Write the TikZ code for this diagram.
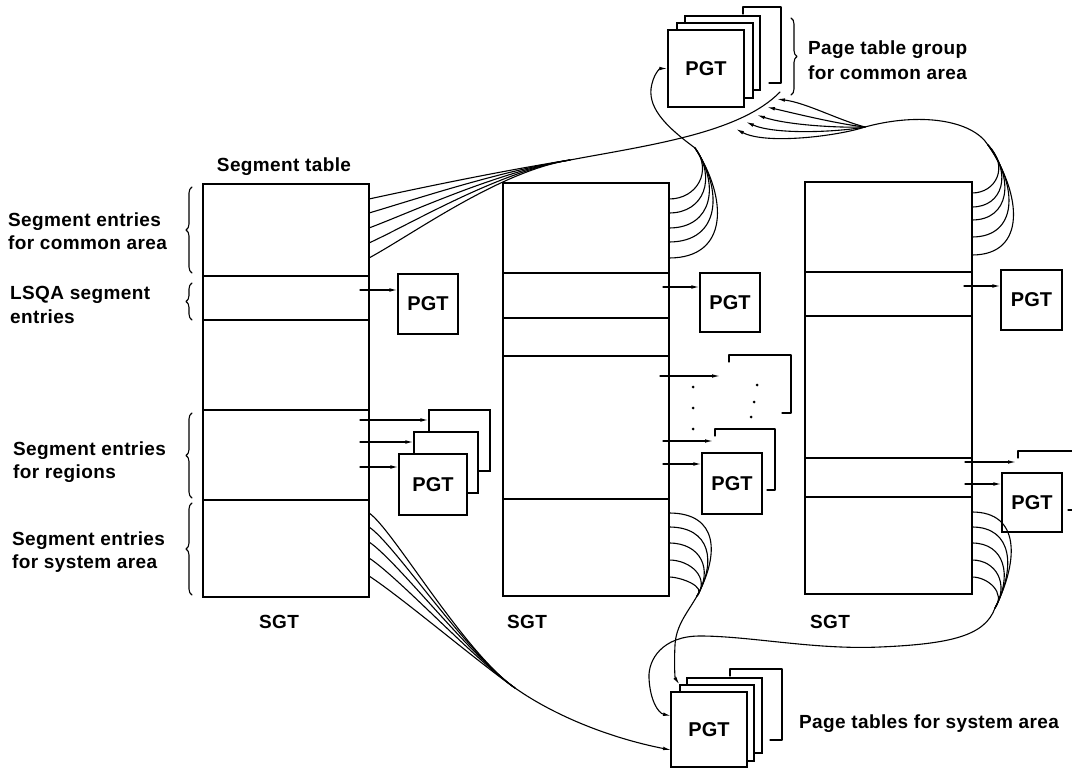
\documentclass[tikz,border=0pt]{standalone}
\usepackage{fontspec}
\setmainfont{Liberation Sans}
\newfontfamily\lblfont{Liberation Sans}[LetterSpace=2]
\usetikzlibrary{arrows.meta,decorations.pathreplacing}
\begin{document}
\tikzset{
  ln/.style={line width=1.1pt, line cap=round, line join=round},
  box/.style={draw, fill=white, line width=1.2pt, inner sep=0pt},
  pgt/.style={box, font=\bfseries\fontsize{20}{20}\selectfont},
  tbl/.style={draw, line width=1.3pt, inner sep=0pt},
  lbl/.style={font=\lblfont\bfseries\fontsize{19}{22}\selectfont, inner sep=0pt},
  arr/.style={ln, -{Latex[length=8pt,width=3.6pt]}},
  brc/.style={ln, decorate, decoration={brace, amplitude=6pt}},
  dot/.style={fill=black},
}
\begin{tikzpicture}[x=1pt,y=-1pt]
\useasboundingbox (0,0) rectangle (1072,770);

% ---------- segment tables ----------
\node[tbl, minimum width=166pt, minimum height=413pt] (segL) at (286,390.5) {};
\node[tbl, minimum width=166pt, minimum height=413pt] (segM) at (586,389.5) {};
\node[tbl, minimum width=167pt, minimum height=412pt] (segR) at (888.5,388) {};
\begin{scope}[line width=1.3pt]
  \draw (203,276) -- (369,276);  \draw (203,320) -- (369,320);
  \draw (203,410) -- (369,410);  \draw (203,500) -- (369,500);
  \draw (503,273) -- (669,273);  \draw (503,318) -- (669,318);
  \draw (503,356) -- (669,356);  \draw (503,499) -- (669,499);
  \draw (805,272) -- (972,272);  \draw (805,316) -- (972,316);
  \draw (805,458) -- (972,458);  \draw (805,497) -- (972,497);
\end{scope}

% ---------- table captions ----------
\node[lbl, anchor=base] (segtitle) at (284,172) {Segment table};
\node[lbl, anchor=base] (sgtL) at (279,628) {SGT};
\node[lbl, anchor=base] (sgtM) at (527,628) {SGT};
\node[lbl, anchor=base] (sgtR) at (830,628) {SGT};

% ---------- left-hand labels and braces ----------
\node[lbl, anchor=base west] (lc1) at (8,227) {Segment entries};
\node[lbl, anchor=base west] (lc2) at (8,249.5) {for common area};
\node[lbl, anchor=base west] (ll1) at (10,300) {LSQA segment};
\node[lbl, anchor=base west] (ll2) at (10,324) {entries};
\node[lbl, anchor=base west] (lr1) at (13,455) {Segment entries};
\node[lbl, anchor=base west] (lr2) at (13,478) {for regions};
\node[lbl, anchor=base west] (ls1) at (12,545) {Segment entries};
\node[lbl, anchor=base west] (ls2) at (12,568) {for system area};
\draw[brc] (192,273) -- (192,187);
\draw[brc] (192,320) -- (192,283);
\draw[brc] (192,498) -- (192,413);
\draw[brc] (192,595) -- (192,503);

% ---------- page tables for LSQA ----------
\node[pgt, minimum width=60pt, minimum height=60pt] (pL) at (428,304) {PGT};
\node[pgt, minimum width=60pt, minimum height=59pt] (pM) at (730,302.5) {PGT};
\node[pgt, minimum width=61pt, minimum height=60pt] (pR) at (1031.5,300) {PGT};
\coordinate (aLl) at (360,290);
\coordinate (aMl) at (663,287);
\coordinate (aRl) at (964,286);
\draw[arr] (aLl) -- (aLl -| pL.west);
\draw[arr] (aMl) -- (aMl -| pM.west);
\draw[arr] (aRl) -- (aRl -| pR.west);

% ---------- page tables for regions: left ----------
\node[box, minimum width=61pt, minimum height=61pt] (rL3) at (459.5,440.5) {};
\node[box, minimum width=64pt, minimum height=61pt] (rL2) at (446,462.5) {};
\node[pgt, minimum width=68pt, minimum height=61pt] (rL1) at (433,484.5) {PGT};
\coordinate (aLr1) at (360,420);
\coordinate (aLr2) at (360,442);
\coordinate (aLr3) at (360,467);
\draw[arr] (aLr1) -- (aLr1 -| rL3.west);
\draw[arr] (aLr2) -- (aLr2 -| rL2.west);
\draw[arr] (aLr3) -- (aLr3 -| rL1.west);

% ---------- page tables for regions: middle ----------
\draw[ln, line width=1.2pt] (729,362) -- (729,355) -- (791,355) -- (791,413) -- (782,413);
\draw[ln, line width=1.2pt] (715,436) -- (715,429) -- (775,429) -- (775,490) -- (767,490);
\node[pgt, minimum width=60pt, minimum height=61pt] (rM) at (732,483.5) {PGT};
\fill[dot] (693,387) circle (1.5pt);
\fill[dot] (693,408) circle (1.5pt);
\fill[dot] (693,429) circle (1.5pt);
\fill[dot] (757,385) circle (1.5pt);
\fill[dot] (754,402) circle (1.5pt);
\fill[dot] (751,417) circle (1.5pt);
\coordinate (aMr1) at (660,376);  \coordinate (eMr1) at (720,376);
\coordinate (aMr2) at (663,441);  \coordinate (eMr2) at (713,441);
\coordinate (aMr3) at (663,464);
\draw[arr] (aMr1) -- (eMr1);
\draw[arr] (aMr2) -- (eMr2);
\draw[arr] (aMr3) -- (aMr3 -| rM.west);

% ---------- page tables for regions: right ----------
\draw[ln, line width=1.2pt] (1018,458) -- (1018,451) -- (1072,451);
\draw[ln, line width=1.2pt] (1068,510) -- (1072,510);
\node[pgt, minimum width=60pt, minimum height=59pt] (rR) at (1032,502.5) {PGT};
\coordinate (aRr1) at (965,462);  \coordinate (eRr1) at (1016,462);
\coordinate (aRr2) at (965,484);
\draw[arr] (aRr1) -- (eRr1);
\draw[arr] (aRr2) -- (aRr2 -| rR.west);

% ---------- page table group for common area ----------
\draw[ln, line width=1.2pt] (743,14) -- (743,7) -- (781,7) -- (781,83) -- (769,83);
\node[box, minimum width=75pt, minimum height=74pt] (t3) at (722.5,53) {};
\node[box, minimum width=76pt, minimum height=75pt] (t2) at (715,60.5) {};
\node[pgt, minimum width=76pt, minimum height=77pt] (t1) at (706,68.5) {PGT};
\draw[brc] (791,18) -- (791,95);
\node[lbl, anchor=base west] (tg1) at (808,55) {Page table group};
\node[lbl, anchor=base west] (tg2) at (808,80) {for common area};

% ---------- page tables for system area ----------
\draw[ln, line width=1.2pt] (730,676) -- (730,669) -- (782,669) -- (782,740) -- (770,740);
\node[box, minimum width=75pt, minimum height=75pt] (b3) at (724.5,715.5) {};
\node[box, minimum width=74pt, minimum height=76pt] (b2) at (717,723) {};
\node[pgt, minimum width=76pt, minimum height=75pt] (b1) at (709,729.5) {PGT};
\node[lbl, anchor=base west] (sysl) at (799,728) {Page tables for system area};

% ---------- common area: left table ----------
\coordinate (jLc) at (570,160);
\coordinate (eLc) at (780,92);
\foreach \y in {199,213,228,243,258}{
  \pgfmathsetmacro{\cy}{\y-0.25*(\y-160)}
  \draw[ln] (369,\y) .. controls (414,\cy) and (500,171) .. (jLc);
}
\draw[ln] (jLc) .. controls (650,145) and (740,133) .. (eLc);

% ---------- common area: middle table ----------
\coordinate (jMc) at (695,148);
\foreach \y in {199,213,228,242,258}{
  \pgfmathsetmacro{\d}{\y-148}
  \pgfmathsetmacro{\ax}{669+0.55*\d}
  \pgfmathsetmacro{\bx}{700+0.25*\d}
  \pgfmathsetmacro{\by}{148+0.45*\d}
  \draw[ln] (669,\y) .. controls (\ax,\y) and (\bx,\by) .. (jMc);
}
\draw[arr] (jMc) .. controls (668,128) and (649,110) .. (651,89)
               .. controls (653,74) and (660,68.5) .. (t1.west);

% ---------- common area: right table ----------
\coordinate (jRc) at (988,145);
\coordinate (jRf) at (865,127);
\foreach \y in {193,207,220,237,255}{
  \pgfmathsetmacro{\d}{\y-145}
  \pgfmathsetmacro{\ax}{972+0.5*\d}
  \pgfmathsetmacro{\bx}{1000+0.2*\d}
  \pgfmathsetmacro{\by}{145+0.45*\d}
  \draw[ln] (972,\y) .. controls (\ax,\y) and (\bx,\by) .. (jRc);
}
\draw[ln] (jRc) .. controls (972,120) and (920,112) .. (jRf);
\foreach \tx/\ty/\k in {777/99/0,767/107/1,757/115/2,746/122/3,736/129/4}{
  \pgfmathsetmacro{\ay}{120+4*\k}
  \pgfmathsetmacro{\bx}{\tx+30}
  \pgfmathsetmacro{\by}{\ty+4+3*\k}
  \draw[arr] (jRf) .. controls (838,\ay) and (\bx,\by) .. (\tx,\ty);
}

% ---------- system area: left table ----------
\coordinate (jLs) at (515,688);
\coordinate (eLs) at (671,750);
\foreach \y/\k in {513/0,527/1,542/2,558/3,576/4}{
  \pgfmathsetmacro{\ax}{392+2*\k}
  \pgfmathsetmacro{\ay}{\y+15+1.25*\k}
  \pgfmathsetmacro{\s}{1.3-0.1*\k}
  \pgfmathsetmacro{\bx}{515-40*\s}
  \pgfmathsetmacro{\by}{688-28*\s}
  \draw[ln] (369,\y) .. controls (\ax,\ay) and (\bx,\by) .. (jLs);
}
\draw[arr] (jLs) .. controls (555,716) and (610,738) .. (eLs);

% ---------- system area: middle table ----------
\coordinate (jMs) at (697,596);
\foreach \y in {513,527,543,560,577}{
  \pgfmathsetmacro{\d}{596-\y}
  \pgfmathsetmacro{\ax}{669+0.6*\d}
  \pgfmathsetmacro{\bx}{703+0.2*\d}
  \pgfmathsetmacro{\by}{596-0.5*\d}
  \draw[ln] (669,\y) .. controls (\ax,\y) and (\bx,\by) .. (jMs);
}
\draw[arr] (jMs) .. controls (688,612) and (676,625) .. (675,645)
               .. controls (674,665) and (675,678) .. (b2.north west);

% ---------- system area: right table ----------
\coordinate (jRs) at (995,608);
\coordinate (eRs) at (671,716);
\foreach \y in {512,527,543,560,577}{
  \pgfmathsetmacro{\d}{608-\y}
  \pgfmathsetmacro{\ax}{972+0.5*\d}
  \pgfmathsetmacro{\bx}{1000+0.2*\d}
  \pgfmathsetmacro{\by}{608-0.5*\d}
  \draw[ln] (972,\y) .. controls (\ax,\y) and (\bx,\by) .. (jRs);
}
\draw[arr] (jRs) .. controls (985,636) and (950,644) .. (880,647)
               .. controls (815,650) and (750,636) .. (700,636)
               .. controls (662,636) and (648,660) .. (649,678)
               .. controls (650,700) and (658,713) .. (eRs);
\end{tikzpicture}
\end{document}
